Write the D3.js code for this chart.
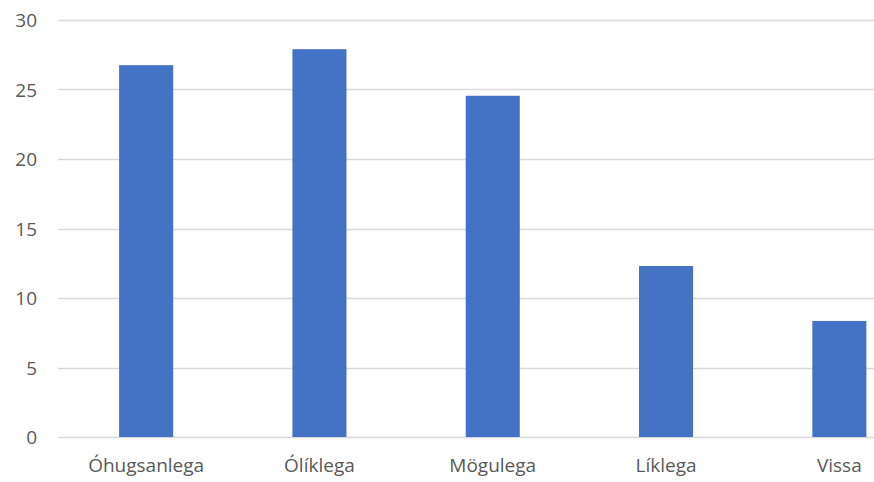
<!DOCTYPE html>
<html><head><meta charset="utf-8">
<script src="https://cdn.jsdelivr.net/npm/d3@7"></script>
<style>body{margin:0;background:#fff}svg{display:block}</style>
</head><body>
<svg id="c" width="874" height="482"></svg>
<script>
const categories = ["Óhugsanlega","Ólíklega","Mögulega","Líklega","Vissa"];
const values = [26.75, 27.9, 24.55, 12.3, 8.35];
const yTicks = [0,5,10,15,20,25,30];

const svg = d3.select("#c");
const x0 = 59.5, step = 173.3;
const x = d3.scaleBand().domain(categories).range([x0, x0 + step*categories.length]).paddingInner(0.688).paddingOuter(0.344);
const y = d3.scaleLinear().domain([0,30]).range([437,20]);
const font = "'Open Sans', sans-serif";

svg.append("g").selectAll("line").data(yTicks).join("line")
  .attr("x1", 58).attr("x2", 874)
  .attr("y1", d=>Math.round(y(d))+0.5).attr("y2", d=>Math.round(y(d))+0.5)
  .attr("stroke", "#d9d9d9").attr("stroke-width", 1.3);

svg.append("g").selectAll("text").data(yTicks).join("text")
  .attr("x", 37).attr("y", d=>y(d)+7)
  .attr("text-anchor","end").attr("font-family",font).attr("font-size",19)
  .attr("fill","#595959").text(d=>d);

svg.append("g").selectAll("rect").data(categories).join("rect")
  .attr("x", d=>x(d)).attr("width", x.bandwidth())
  .attr("y", (d,i)=>y(values[i])).attr("height",(d,i)=>y(0)-y(values[i]))
  .attr("fill","#4472c4");

svg.append("g").selectAll("text").data(categories).join("text")
  .attr("x", d=>x(d)+x.bandwidth()/2).attr("y", 472)
  .attr("text-anchor","middle").attr("font-family",font).attr("font-size",19)
  .attr("fill","#595959").text(d=>d);
</script>
</body></html>
